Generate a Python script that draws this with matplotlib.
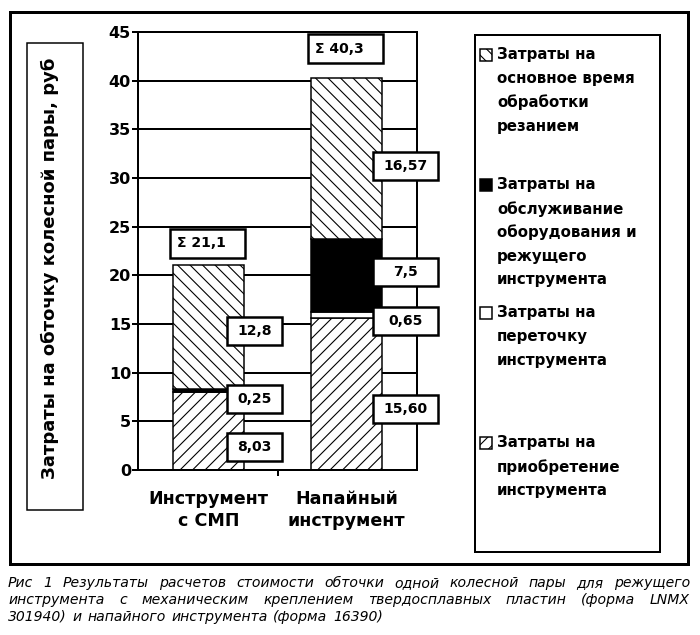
import matplotlib
matplotlib.use("Agg")
import numpy as np
import matplotlib.pyplot as plt
from matplotlib.patches import Rectangle

# -------- DATA --------
tools = ["Инструмент\nс СМП", "Напайный\nинструмент"]
purchase = [8.03, 15.60]   # приобретение инструмента
regrind = [0.0, 0.65]      # переточка инструмента
service = [0.25, 7.5]      # обслуживание оборудования и инструмента
cutting = [12.8, 16.57]    # основное время обработки резанием
totals = [21.1, 40.3]
decimals = {"purchase": [2, 2], "regrind": [2, 2], "service": [2, 1], "cutting": [1, 2]}
y_ticks = np.arange(0, 46, 5)

legend_labels = [
    "Затраты на\nосновное время\nобработки\nрезанием",
    "Затраты на\nобслуживание\nоборудования и\nрежущего\nинструмента",
    "Затраты на\nпереточку\nинструмента",
    "Затраты на\nприобретение\nинструмента",
]
ylabel = "Затраты на обточку колесной пары, руб"
caption = [
    "Рис  1  Результаты расчетов стоимости обточки одной колесной пары для режущего",
    "инструмента с механическим креплением твердосплавных пластин (форма LNMX",
    "301940) и напайного инструмента (форма 16390)",
]

# -------- LAYOUT --------
W, H, DPI = 700, 635, 75


def px(v):
    return v * 72 / DPI


def fx(x):
    return x / W


def fy(y):
    return 1 - y / H


def fig_rect(x0, y0, x1, y1, **kw):
    return Rectangle((fx(x0), fy(y1)), (x1 - x0) / W, (y1 - y0) / H,
                     transform=fig.transFigure, **kw)


def fmt(v, d):
    return f"{v:.{d}f}".replace(".", ",")


plt.rcParams["font.family"] = "DejaVu Sans"
plt.rcParams["hatch.linewidth"] = px(1.1)

fig = plt.figure(figsize=(W / DPI, H / DPI), dpi=DPI)
fig.add_artist(fig_rect(10, 12, 688, 564, fill=False, lw=px(3), ec="black"))

ax = fig.add_axes([fx(138), fy(470), (417 - 138) / W, (470 - 32) / H])
x = np.arange(len(tools))
bw = 0.515

ax.bar(x, purchase, bw, color="white", edgecolor="black", hatch="//", lw=px(1.5), zorder=2)
bottom = np.array(purchase)
ax.bar(x, regrind, bw, bottom=bottom, color="white", edgecolor="black", lw=px(1.5), zorder=2)
bottom = bottom + regrind
ax.bar(x, service, bw, bottom=bottom, color="black", edgecolor="black", lw=px(1.5), zorder=2)
bottom = bottom + service
ax.bar(x, cutting, bw, bottom=bottom, color="white", edgecolor="black", hatch="\\\\", lw=px(1.5), zorder=2)

ax.set_xlim(-0.51, 1.51)
ax.set_ylim(0, 45)
ax.set_yticks(y_ticks)
ax.set_xticks(x)
ax.set_xticklabels(tools, fontsize=px(17.5), fontweight="bold", linespacing=1.3)
ax.set_xticks([0.5], minor=True)
ax.tick_params(axis="x", which="major", length=0, pad=px(20))
ax.tick_params(axis="x", which="minor", length=px(6), width=px(2), direction="out")
ax.tick_params(axis="y", length=px(6), width=px(2), pad=px(1), labelsize=px(16))
for t in ax.get_yticklabels():
    t.set_fontweight("bold")
ax.set_axisbelow(True)
ax.yaxis.grid(True, color="black", lw=px(2))
for s in ax.spines.values():
    s.set_linewidth(px(2))

# -------- VALUE BOXES --------
box_h = 2.88
box_x = [0.334, 1.428]
box_w = [0.399, 0.471]
label_y = {"cutting": [14.3, 31.2], "service": [7.3, 20.3],
           "regrind": [None, 15.3], "purchase": [2.4, 6.3]}
series = {"purchase": purchase, "regrind": regrind, "service": service, "cutting": cutting}
for name, vals in series.items():
    for i, v in enumerate(vals):
        yy = label_y[name][i]
        if yy is None:
            continue
        ax.add_patch(Rectangle((box_x[i] - box_w[i] / 2, yy - box_h / 2), box_w[i], box_h,
                               fc="white", ec="black", lw=px(2.5), zorder=4, clip_on=False))
        ax.text(box_x[i], yy, fmt(v, decimals[name][i]), ha="center", va="center",
                fontsize=px(14), fontweight="bold", zorder=5, clip_on=False)

total_left = [-0.278, 0.722]
total_y = [23.3, 43.3]
for i, tot in enumerate(totals):
    ax.add_patch(Rectangle((total_left[i], total_y[i] - 1.5), 0.54, 3.0,
                           fc="white", ec="black", lw=px(2.5), zorder=4, clip_on=False))
    ax.text(total_left[i] + 0.05, total_y[i], "Σ " + fmt(tot, 1), ha="left", va="center",
            fontsize=px(14), fontweight="bold", zorder=5, clip_on=False)

# -------- Y LABEL --------
fig.add_artist(fig_rect(27, 43, 83, 510, fill=False, lw=px(1.5), ec="black"))
fig.text(fx(50), fy(268), ylabel, rotation=90, ha="center", va="center",
         fontsize=px(18), fontweight="bold")

# -------- LEGEND --------
fig.add_artist(fig_rect(475, 35, 660, 552, fill=False, lw=px(2), ec="black"))
leg_y = [55, 185, 313, 443]
leg_style = [dict(fc="white", hatch="\\\\"), dict(fc="black"), dict(fc="white"), dict(fc="white", hatch="//")]
for lab, y0, st in zip(legend_labels, leg_y, leg_style):
    fig.add_artist(fig_rect(480, y0 - 6, 492, y0 + 6, ec="black", lw=px(1.5), **st))
    for k, line in enumerate(lab.split("\n")):
        fig.text(fx(497), fy(y0 + k * 23.7), line, ha="left", va="center",
                 fontsize=px(15), fontweight="bold")

# -------- CAPTION --------
renderer = fig.canvas.get_renderer()
cap_y = [583, 600, 617]
cap_fs = px(14)
for n, (line, y0) in enumerate(zip(caption, cap_y)):
    words = line.split()
    texts = [fig.text(0, fy(y0), w, ha="left", va="center", fontsize=cap_fs,
                      style="italic") for w in words]
    widths = [t.get_window_extent(renderer).width for t in texts]
    if n < 2:
        gap = (690 - 8 - sum(widths)) / (len(words) - 1)
    else:
        gap = 14 * 0.4
    xx = 8
    for t, w in zip(texts, widths):
        t.set_x(fx(xx))
        xx += w + gap

fig.savefig("out.png", dpi=DPI)
